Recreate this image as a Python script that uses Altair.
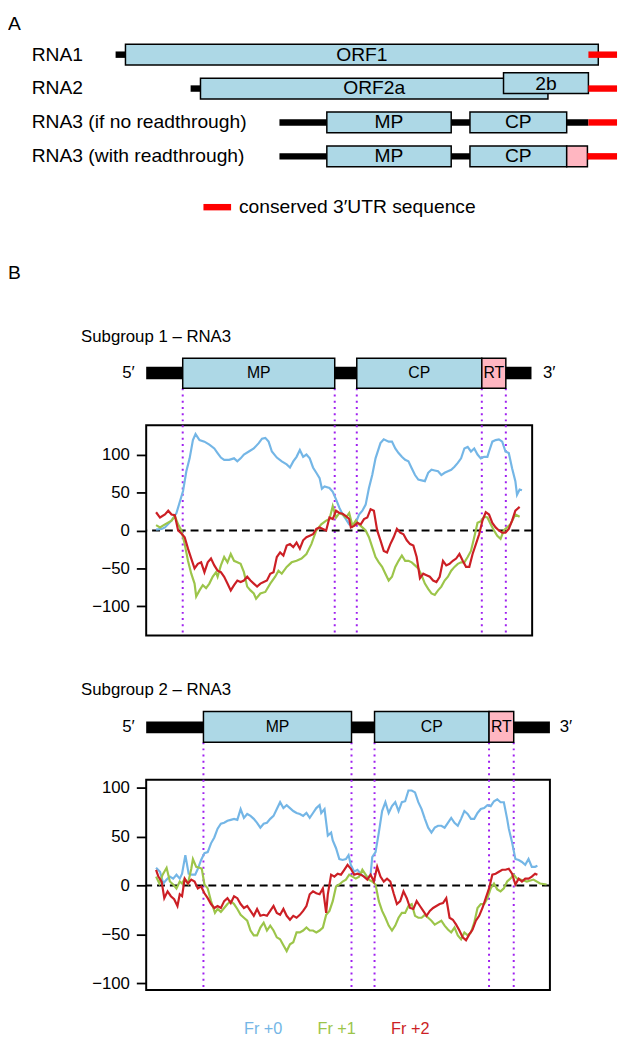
import altair as alt
import pandas as pd

FONT = "Liberation Sans"
SERIES = ["Fr +0", "Fr +1", "Fr +2"]
SERIES_COLORS = ["#74b6e6", "#9cc54a", "#cc1f25"]
PURPLE = "#a020f0"
BOX_BLUE = "#add8e6"
RT_PINK = "#ffb6c1"
UTR_RED = "#ff0000"

# ---------------- Panel A: genome organisation (positions in nt) ----------------
RNAS = ["RNA1", "RNA2", "RNA3 (if no readthrough)", "RNA3 (with readthrough)"]
A_NC_RNA = ["RNA1", "RNA2", "RNA3 (if no readthrough)", "RNA3 (with readthrough)"]
A_NC_START = [0, 456, 996, 996]
A_NC_END = [60, 516, 2874, 2874]
A_ORF_RNA = ["RNA1", "RNA2", "RNA3 (if no readthrough)", "RNA3 (if no readthrough)",
             "RNA3 (with readthrough)", "RNA3 (with readthrough)"]
A_ORF_NAME = ["ORF1", "ORF2a", "MP", "CP", "MP", "CP"]
A_ORF_START = [60, 516, 1284, 2154, 1284, 2154]
A_ORF_END = [2934, 2628, 2040, 2742, 2040, 2742]
A_2B_RNA = ["RNA2"]
A_2B_NAME = ["2b"]
A_2B_START = [2358]
A_2B_END = [2874]
A_RT_RNA = ["RNA3 (with readthrough)"]
A_RT_START = [2742]
A_RT_END = [2868]
A_UTR_RNA = ["RNA1", "RNA2", "RNA3 (if no readthrough)", "RNA3 (with readthrough)"]
A_UTR_START = [2874, 2874, 2874, 2868]
A_UTR_END = [3048, 3048, 3048, 3048]

# ---------------- Panel B: gene maps (nt) ----------------
S1_MP, S1_CP, S1_RT, S1_END, S1_LEN = (222, 1146), (1280, 2040), (2040, 2186), 2342, 2346
S2_MP, S2_CP, S2_RT, S2_END, S2_LEN = (348, 1248), (1388, 2084), (2084, 2234), 2454, 2454

# ---------------- Subgroup 1 profiles ----------------
S1_BLUE_POS = [60, 94, 114, 154, 184, 224, 244, 264, 284, 300, 324, 354, 384, 414, 434, 454, 474, 504, 534, 554,
               574, 594, 624, 654, 684, 704, 724, 744, 764, 794, 824, 854, 874, 894, 914, 934, 954, 974, 994, 1014,
               1034, 1054, 1068, 1084, 1114, 1134, 1154, 1174, 1194, 1214, 1234, 1254, 1274, 1294, 1314, 1334, 1354,
               1374, 1394, 1424, 1444, 1474, 1494, 1514, 1534, 1554, 1574, 1594, 1614, 1634, 1654, 1674, 1694, 1714,
               1734, 1754, 1774, 1794, 1814, 1834, 1854, 1874, 1894, 1914, 1934, 1954, 1974, 1994, 2014, 2034, 2054,
               2074, 2084, 2104, 2124, 2144, 2164, 2184, 2204, 2224, 2244, 2254, 2270, 2284]
S1_BLUE = [1, 2, 4, 13, 23, 52, 78, 95, 119, 127, 119, 117, 113, 108, 102, 96, 93, 93, 95, 91,
           95, 100, 104, 108, 115, 121, 122, 117, 104, 96, 91, 87, 83, 91, 97, 106, 97, 100, 95, 83,
           76, 69, 55, 58, 56, 51, 41, 30, 21, 15, 8, 6, 10, 21, 26, 34, 56, 73, 95, 115,
           120, 117, 117, 108, 102, 97, 93, 91, 82, 73, 67, 66, 65, 76, 80, 79, 78, 73, 76, 78,
           80, 84, 89, 95, 108, 110, 104, 108, 100, 95, 97, 97, 104, 117, 119, 120, 117, 104, 102, 82,
           65, 47, 54, 53]
S1_GREEN_POS = [60, 84, 114, 154, 174, 194, 214, 234, 254, 274, 294, 304, 324, 344, 364, 384, 404, 424, 434, 454,
                474, 494, 514, 534, 554, 574, 594, 614, 634, 654, 668, 694, 724, 754, 784, 804, 824, 854, 884, 914,
                944, 974, 1004, 1034, 1064, 1094, 1114, 1134, 1154, 1174, 1194, 1214, 1234, 1254, 1274, 1294, 1314,
                1334, 1354, 1374, 1394, 1414, 1434, 1454, 1474, 1494, 1514, 1534, 1554, 1574, 1594, 1614, 1634, 1654,
                1674, 1694, 1714, 1734, 1754, 1774, 1794, 1814, 1834, 1854, 1874, 1894, 1914, 1934, 1954, 1974,
                1994, 2014, 2034, 2054, 2074, 2094, 2114, 2134, 2154, 2174, 2194, 2214, 2244, 2270]
S1_GREEN = [7, 4, 8, 13, 19, 8, 0, -18, -40, -57, -70, -87, -79, -72, -76, -70, -61, -55, -61, -46,
            -35, -42, -31, -40, -42, -44, -55, -74, -79, -83, -90, -83, -81, -70, -61, -53, -57, -48, -42, -40,
            -37, -31, -18, 0, 8, 13, 15, 32, 17, 23, 21, 17, 23, 6, 13, 8, 4, 0, -9, -22,
            -35, -42, -48, -57, -66, -61, -48, -40, -33, -40, -40, -42, -46, -50, -59, -70, -77, -83, -85, -79,
            -74, -66, -61, -53, -48, -44, -42, -42, -35, -27, -9, 10, 12, 18, 17, 8, 0, -7, -11, 0,
            4, 8, 21, 18]
S1_RED_POS = [60, 84, 114, 134, 154, 174, 194, 214, 234, 254, 274, 294, 314, 334, 354, 374, 394, 414, 434, 454,
              474, 494, 514, 534, 554, 574, 594, 614, 634, 654, 674, 694, 714, 734, 754, 774, 794, 814, 834, 854,
              874, 894, 914, 934, 954, 974, 994, 1014, 1034, 1054, 1074, 1094, 1114, 1134, 1154, 1174, 1194, 1214,
              1234, 1244, 1264, 1284, 1304, 1324, 1344, 1364, 1384, 1404, 1424, 1444, 1464, 1484, 1504, 1524,
              1544, 1564, 1584, 1604, 1624, 1644, 1664, 1684, 1704, 1724, 1744, 1764, 1784, 1804, 1824, 1844,
              1864, 1884, 1904, 1924, 1944, 1964, 1984, 2004, 2024, 2044, 2064, 2084, 2104, 2124, 2144, 2164,
              2184, 2204, 2224, 2244, 2270]
S1_RED = [24, 17, 21, 26, 21, 20, 0, -4, -9, -24, -37, -50, -44, -42, -55, -42, -37, -46, -53, -55,
          -61, -70, -79, -72, -66, -68, -66, -61, -66, -70, -74, -70, -68, -66, -57, -55, -35, -29, -33, -20,
          -18, -22, -16, -24, -13, -9, -7, -5, 2, 4, 2, 0, 17, 15, 26, 23, 22, 19,
          15, 4, 6, 10, 8, 15, 17, 28, 26, 0, -13, -27, -29, -18, -9, 2, -3, -5, -13, -18, -20,
          -35, -63, -57, -59, -61, -66, -68, -61, -40, -46, -44, -40, -37, -31, -40, -48, -48, -31, -18, -5,
          13, 24, 21, 10, 4, 0, -3, -3, 2, 13, 26, 31]

# ---------------- Subgroup 2 profiles ----------------
S2_BLUE_POS = [60, 84, 104, 124, 144, 164, 184, 204, 218, 238, 258, 278, 298, 314, 334, 354, 374, 394, 414, 434,
               454, 474, 494, 514, 534, 554, 574, 594, 614, 634, 654, 674, 694, 714, 734, 754, 774, 794, 814, 834,
               854, 874, 894, 914, 934, 954, 974, 994, 1014, 1034, 1054, 1064, 1084, 1104, 1124, 1134, 1154, 1174,
               1194, 1214, 1230, 1244, 1264, 1284, 1304, 1324, 1344, 1364, 1374, 1394, 1414, 1434, 1454, 1474,
               1494, 1514, 1534, 1554, 1574, 1594, 1614, 1634, 1654, 1674, 1694, 1714, 1734, 1754, 1774, 1794,
               1814, 1834, 1854, 1874, 1894, 1914, 1934, 1954, 1974, 1994, 2014, 2034, 2054, 2074, 2094, 2114,
               2134, 2154, 2174, 2194, 2204, 2224, 2244, 2264, 2284, 2304, 2324, 2344, 2364, 2378]
S2_BLUE = [18, 14, 2, 6, 9, 7, 11, 7, 12, 31, 12, 11, 11, 17, 26, 33, 34, 43, 49, 58,
           63, 64, 66, 67, 68, 67, 78, 69, 73, 71, 68, 64, 59, 63, 64, 68, 71, 78, 85, 79,
           82, 79, 76, 74, 73, 71, 74, 69, 74, 79, 82, 74, 78, 51, 54, 46, 38, 27, 26, 27,
           31, 21, 14, 16, 12, 9, 7, 11, 29, 34, 54, 76, 85, 74, 81, 85, 76, 85, 86, 97,
           97, 95, 85, 78, 68, 59, 54, 59, 61, 61, 59, 64, 69, 64, 61, 68, 76, 73, 68, 68,
           74, 78, 79, 82, 81, 86, 88, 85, 85, 68, 58, 44, 27, 26, 24, 21, 27, 19, 19, 20]
S2_GREEN_POS = [60, 80, 100, 124, 144, 164, 184, 204, 218, 234, 254, 274, 284, 304, 324, 338, 354, 374, 394, 418,
                434, 454, 474, 494, 514, 534, 554, 574, 594, 614, 634, 654, 674, 694, 714, 734, 754, 774, 794, 814,
                834, 854, 874, 894, 914, 934, 954, 974, 994, 1014, 1034, 1054, 1074, 1094, 1114, 1134, 1154, 1174,
                1194, 1214, 1234, 1254, 1274, 1294, 1314, 1334, 1354, 1374, 1394, 1414, 1434, 1454, 1474, 1494,
                1514, 1534, 1554, 1574, 1594, 1614, 1634, 1654, 1674, 1694, 1714, 1734, 1754, 1774, 1794, 1814,
                1834, 1854, 1874, 1894, 1914, 1934, 1954, 1974, 1994, 2014, 2034, 2054, 2074, 2094, 2114, 2134,
                2154, 2174, 2194, 2214, 2234, 2254, 2274, 2314, 2354, 2394, 2434]
S2_GREEN = [9, 2, 11, 18, 4, 1, -3, 4, 2, 7, 2, 17, 27, 19, 18, 17, 1, -3, -16, -28,
            -24, -27, -23, -19, -16, -19, -24, -30, -33, -36, -46, -51, -51, -43, -38, -46, -41, -46, -53, -55,
            -61, -67, -60, -58, -48, -48, -46, -43, -46, -46, -48, -46, -43, -30, -26, -16, -1, 1, 4, 6,
            11, 9, 7, 9, 16, 11, 6, 4, 1, -16, -26, -33, -41, -46, -41, -33, -28, -28, -21, -19,
            -31, -33, -33, -30, -33, -36, -40, -38, -36, -41, -45, -48, -43, -51, -55, -48, -51, -48, -38, -23,
            -19, -19, -13, -3, 2, -4, -6, -3, 4, 7, 11, 7, 6, 4, 6, 2, 1]
S2_RED_POS = [60, 74, 94, 110, 130, 150, 170, 190, 204, 218, 234, 254, 274, 294, 314, 334, 354, 374, 394, 414,
              434, 454, 474, 494, 514, 534, 554, 574, 594, 614, 634, 654, 674, 694, 714, 734, 754, 774, 794, 814,
              834, 854, 874, 894, 914, 934, 954, 974, 994, 1014, 1034, 1054, 1074, 1094,
              1104, 1124, 1144, 1164, 1184, 1204, 1224, 1244, 1264, 1284, 1304, 1324, 1344, 1364, 1384, 1404,
              1424, 1444, 1464, 1484, 1504, 1524, 1544, 1564, 1584, 1604, 1624, 1644, 1664, 1684, 1704, 1724,
              1744, 1764, 1784, 1804, 1824, 1844, 1864, 1884, 1904, 1924, 1944, 1964, 1984, 2004, 2024, 2044,
              2064, 2084, 2104, 2124, 2144, 2164, 2184, 2204, 2224, 2244, 2264, 2284, 2304, 2324, 2344, 2364, 2378]
S2_RED = [16, 9, 4, -13, -6, -11, -14, -21, -9, -11, 7, 2, 6, 4, -3, -1, -8, -13, -19, -23,
          -21, -23, -16, -13, -18, -11, -13, -19, -23, -21, -26, -31, -24, -31, -30, -31, -26, -21, -28, -30,
          -24, -31, -35, -31, -33, -30, -26, -21, -9, -6, -8, -9, -3, -28,
          -9, 11, 9, 12, 11, 16, 21, 17, 11, 12, 11, 9, 6, 11, 4, 19, 9, 4, 7, 4,
          -8, -19, -16, -6, -13, -23, -24, -16, -21, -26, -31, -26, -23, -21, -19, -18, -13, -33, -35, -40,
          -46, -53, -56, -50, -45, -36, -31, -23, -13, -3, 11, 12, 14, 16, 16, 17, 12, 1, 7, 4,
          7, 7, 9, 12, 11]

Y_TICKS = [-100, -50, 0, 50, 100]

ONE = pd.DataFrame({"k": [0]})


def label(txt, x, y, size, align="left", color="black"):
    return alt.Chart(ONE).mark_text(text=txt, fontSize=size, align=align, baseline="middle",
                                    color=color).encode(x=alt.value(x), y=alt.value(y))


def profile_df(groups):
    rows = []
    for name, pos, vals in groups:
        for p, v in zip(pos, vals):
            rows.append({"pos": p, "value": v, "series": name})
    return pd.DataFrame(rows)


# ---------------- Panel A chart ----------------
xa = alt.Scale(domain=[-654, 3066], nice=False, zero=False)
ya = alt.Scale(type="point", domain=RNAS, range=[40.5, 143.5], padding=0)


def a_bars(df, **mk):
    return alt.Chart(df).mark_bar(**mk).encode(
        x=alt.X("start:Q", scale=xa, axis=None), x2="end:Q",
        y=alt.Y("rna:N", scale=ya, axis=None))


def a_text(df, **mk):
    return alt.Chart(df).transform_calculate(mid="(datum.start + datum.end) / 2").mark_text(
        fontSize=19.5, baseline="middle", **mk).encode(
        x=alt.X("mid:Q", scale=xa, axis=None), y=alt.Y("rna:N", scale=ya, axis=None), text="name:N")


nc_df = pd.DataFrame({"rna": A_NC_RNA, "start": A_NC_START, "end": A_NC_END})
orf_df = pd.DataFrame({"rna": A_ORF_RNA, "name": A_ORF_NAME, "start": A_ORF_START, "end": A_ORF_END})
b2_df = pd.DataFrame({"rna": A_2B_RNA, "name": A_2B_NAME, "start": A_2B_START, "end": A_2B_END})
rt_df = pd.DataFrame({"rna": A_RT_RNA, "start": A_RT_START, "end": A_RT_END})
utr_df = pd.DataFrame({"rna": A_UTR_RNA, "start": A_UTR_START, "end": A_UTR_END})

row_labels = alt.Chart(pd.DataFrame({"rna": RNAS})).mark_text(
    align="left", baseline="middle", fontSize=19.5).encode(
    x=alt.value(24), y=alt.Y("rna:N", scale=ya, axis=None), text="rna:N")

legend_bar = alt.Chart(ONE).mark_rule(color=UTR_RED, strokeWidth=6.5).encode(
    x=alt.value(198), x2=alt.value(226), y=alt.value(195))

panel_a = alt.layer(
    a_bars(nc_df, height=6.5, color="black"),
    a_bars(orf_df, height=21, color=BOX_BLUE, stroke="black", strokeWidth=1.5),
    a_bars(b2_df, height=21, color=BOX_BLUE, stroke="black", strokeWidth=1.5, yOffset=-5.5),
    a_bars(rt_df, height=21, color=RT_PINK, stroke="black", strokeWidth=1.5),
    a_bars(utr_df, height=6.5, color=UTR_RED),
    a_text(orf_df),
    a_text(b2_df, dy=-5),
    row_labels,
    legend_bar,
    label("conserved 3\u2032UTR sequence", 234, 195, 19.5),
    alt.Chart(ONE).mark_text(text="A", fontSize=19.5, align="left", baseline="top").encode(
        x=alt.value(0), y=alt.value(1)),
).properties(width=620, height=222)


# ---------------- Panel B ----------------
def header(mp, cp, rt, end, xmax, width, height, box_top, box_bot, bar_top, bar_bot, three_x):
    xs = alt.Scale(domain=[0, xmax], nice=False, zero=False)
    mid_y = (box_top + box_bot) / 2
    orfs = pd.DataFrame({"name": ["MP", "CP"], "start": [mp[0], cp[0]], "end": [mp[1], cp[1]]})
    rtd = pd.DataFrame({"name": ["RT"], "start": [rt[0]], "end": [rt[1]]})
    bounds = pd.DataFrame({"b": [mp[0], mp[1], cp[0], cp[1], rt[1]]})
    bar = alt.Chart(pd.DataFrame({"start": [0], "end": [end]})).mark_rect(color="black").encode(
        x=alt.X("start:Q", scale=xs, axis=None), x2="end:Q", y=alt.value(bar_top), y2=alt.value(bar_bot))
    boxes = alt.Chart(orfs).mark_rect(color=BOX_BLUE, stroke="black", strokeWidth=1.5).encode(
        x=alt.X("start:Q", scale=xs, axis=None), x2="end:Q", y=alt.value(box_top), y2=alt.value(box_bot))
    rtbox = alt.Chart(rtd).mark_rect(color=RT_PINK, stroke="black", strokeWidth=1.5).encode(
        x=alt.X("start:Q", scale=xs, axis=None), x2="end:Q", y=alt.value(box_top), y2=alt.value(box_bot))
    txt = alt.Chart(pd.concat([orfs, rtd])).transform_calculate(
        mid="(datum.start + datum.end) / 2").mark_text(fontSize=16, baseline="middle").encode(
        x=alt.X("mid:Q", scale=xs, axis=None), y=alt.value(mid_y), text="name:N")
    dots = alt.Chart(bounds).mark_rule(color=PURPLE, strokeDash=[2, 4.3], strokeWidth=2).encode(
        x=alt.X("b:Q", scale=xs, axis=None), y=alt.value(box_bot), y2=alt.value(height))
    three = label("3\u2032", three_x, mid_y, 17)
    return alt.layer(bar, dots, boxes, rtbox, txt, three).properties(width=width, height=height)


def profile(df, mp, cp, rt, xmax, ydom, width, height):
    xs = alt.Scale(domain=[0, xmax], nice=False, zero=False)
    ys = alt.Scale(domain=ydom, nice=False, zero=False)
    yaxis = alt.Axis(values=Y_TICKS, labelFontSize=17, tickSize=10, tickWidth=1.8, tickColor="black",
                     labelColor="black", labelPadding=7, domain=False, grid=False, title="")
    bounds = pd.DataFrame({"b": [mp[0], mp[1], cp[0], cp[1], rt[1]]})
    dots = alt.Chart(bounds).mark_rule(color=PURPLE, strokeDash=[2, 4.3], strokeWidth=2).encode(
        x=alt.X("b:Q", scale=xs, axis=None))
    zero = alt.Chart(pd.DataFrame({"z": [0]})).mark_rule(color="black", strokeDash=[8, 5], strokeWidth=2).encode(
        y=alt.Y("z:Q", scale=ys, axis=yaxis))
    lines = alt.Chart(df).mark_line(strokeWidth=2.2).encode(
        x=alt.X("pos:Q", scale=xs, axis=None),
        y=alt.Y("value:Q", scale=ys, axis=yaxis),
        color=alt.Color("series:N", scale=alt.Scale(domain=SERIES, range=SERIES_COLORS), legend=None),
    )
    return alt.layer(dots, zero, lines).properties(
        width=width, height=height, view=alt.ViewBackground(stroke="black", strokeWidth=2))


s1_df = profile_df([("Fr +0", S1_BLUE_POS, S1_BLUE), ("Fr +1", S1_GREEN_POS, S1_GREEN),
                    ("Fr +2", S1_RED_POS, S1_RED)])
s2_df = profile_df([("Fr +0", S2_BLUE_POS, S2_BLUE), ("Fr +1", S2_GREEN_POS, S2_GREEN),
                    ("Fr +2", S2_RED_POS, S2_RED)])

hdr1 = header(S1_MP, S1_CP, S1_RT, S1_END, S1_LEN, 391, 191, 126, 156.5, 134.7, 147.3, 402)
plot1 = profile(s1_df, S1_MP, S1_CP, S1_RT, S1_LEN, [-138.5, 138.5], 391, 213)
hdr2 = header(S2_MP, S2_CP, S2_RT, S2_END, S2_LEN, 409, 140, 75, 106, 85, 97, 419)
plot2 = profile(s2_df, S2_MP, S2_CP, S2_RT, S2_LEN, [-106.7, 108], 409, 213)

sp_h1 = alt.layer(
    label("B", 0, 40, 19.5),
    label("Subgroup 1 \u2013 RNA3", 74, 105, 17),
    label("5\u2032", 122, 141, 17, align="center"),
).properties(width=140, height=191)
sp_h2 = alt.layer(
    label("Subgroup 2 \u2013 RNA3", 74, 53, 17),
    label("5\u2032", 122, 91, 17, align="center"),
).properties(width=140, height=140)
sp_p1 = label(" ", 0, 10, 10).properties(width=140, height=213)
sp_p2 = label(" ", 0, 10, 10).properties(width=140, height=213)

legend = alt.Chart(pd.DataFrame({"series": SERIES})).mark_text(fontSize=16.5, baseline="middle").encode(
    x=alt.X("series:N", scale=alt.Scale(type="point", domain=SERIES, range=[258.5, 407.5], padding=0),
            axis=None),
    y=alt.value(37),
    text="series:N",
    color=alt.Color("series:N", scale=alt.Scale(domain=SERIES, range=SERIES_COLORS), legend=None),
).properties(width=620, height=44)


def row(*charts):
    return alt.hconcat(*charts, spacing=0, bounds="flush").resolve_scale(x="independent", y="independent")


chart = alt.vconcat(
    panel_a,
    row(sp_h1, hdr1),
    row(sp_p1, plot1),
    row(sp_h2, hdr2),
    row(sp_p2, plot2),
    legend,
    spacing=0, bounds="full",
).resolve_scale(x="independent", y="independent").properties(padding=0).configure(
    font=FONT).configure_view(strokeWidth=0)

chart.save("out.html", embed_options={"renderer": "svg", "actions": False})
